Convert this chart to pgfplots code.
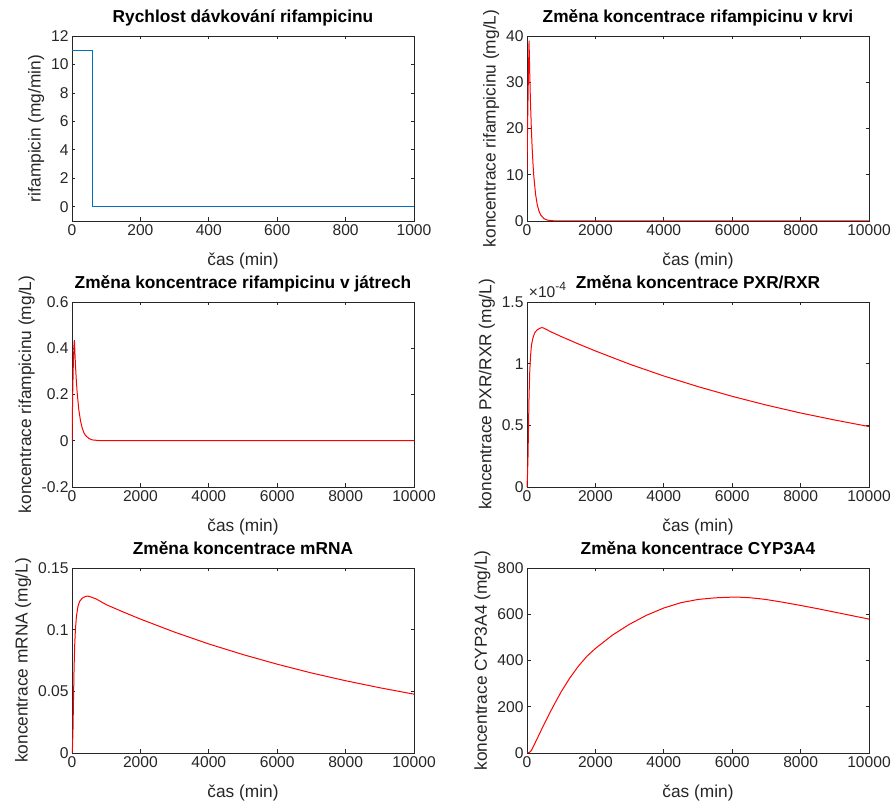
\documentclass[border=0pt]{standalone}
\usepackage{fontspec}
\setmainfont{Liberation Sans}
\usepackage{pgfplots}
\pgfplotsset{compat=1.18}
\definecolor{axgray}{rgb}{0.15,0.15,0.15}
\definecolor{mblue}{rgb}{0,0.447,0.741}
\pgfplotsset{
  mat/.style={
    scale only axis, width=342pt, height=185pt,
    axis line style={draw=axgray, line width=0.8pt},
    every tick/.style={draw=axgray, line width=0.8pt},
    major tick length=3.5pt,
    tick align=inside,
    scaled ticks=false,
    ticklabel style={font=\fontsize{15.6}{18}\selectfont, text=axgray},
    xlabel style={font=\fontsize{17.3}{20}\selectfont, text=axgray,
      at={(axis description cs:0.5,0)}, anchor=base, yshift=-45pt},
    ylabel style={font=\fontsize{17.3}{20}\selectfont, text=axgray},
    title style={font=\fontsize{17.3}{20}\selectfont\bfseries, text=black,
      at={(axis description cs:0.5,1)}, anchor=base, yshift=7.5pt},
    xlabel={čas (min)},
    every axis plot/.append style={line width=1pt},
  },
  longx/.style={
    xmin=0, xmax=10000,
    xtick={0,2000,...,10000},
    xticklabels={0,2000,4000,6000,8000,10000},
  },
}
\begin{document}
\begin{tikzpicture}
\path[use as bounding box] (0,0) rectangle (894pt,805pt);

% dosing rate
\begin{axis}[mat, at={(72pt,584pt)}, anchor=south west,
  title={Rychlost dávkování rifampicinu},
  ylabel={rifampicin (mg/min)},
  xmin=0, xmax=1000, ymin=-1, ymax=12,
  xtick={0,200,...,1000}, xticklabels={0,200,400,600,800,1000},
  ytick={0,2,...,12}, yticklabels={0,2,4,6,8,10,12}]
\addplot[mblue] coordinates {(0,11) (60,11) (60,0) (1000,0)};
\end{axis}

% blood
\begin{axis}[mat, longx, at={(527pt,584pt)}, anchor=south west,
  title={Změna koncentrace rifampicinu v krvi},
  ylabel={koncentrace rifampicinu (mg/L)},
  ymin=0, ymax=40,
  ytick={0,10,...,40}, yticklabels={0,10,20,30,40}]
\addplot[red] coordinates {
(0,11) (20,22) (40,31) (60,39) (80,31.9) (100,26.1) (125,20.4) (150,15.9)
(175,12.4) (200,9.6) (250,5.8) (300,3.5) (350,2.15) (400,1.3) (500,0.48)
(600,0.18) (800,0.02) (1000,0) (10000,0)};
\end{axis}

% liver
\begin{axis}[mat, longx, at={(72pt,318pt)}, anchor=south west,
  title={Změna koncentrace rifampicinu v játrech},
  ylabel={koncentrace rifampicinu (mg/L)},
  ymin=-0.2, ymax=0.6,
  ytick={-0.2,0,0.2,0.4,0.6}, yticklabels={-0.2,0,0.2,0.4,0.6}]
\addplot[red] coordinates {
(0,0) (20,0.2) (40,0.34) (60,0.42) (70,0.435) (100,0.331) (125,0.264)
(150,0.21) (200,0.133) (250,0.085) (300,0.054) (350,0.034) (400,0.022)
(500,0.009) (600,0.0035) (800,0.0006) (1000,0) (10000,0)};
\end{axis}

% PXR/RXR (x 1e-4)
\begin{axis}[mat, longx, at={(527pt,318pt)}, anchor=south west,
  clip=false,
  title={Změna koncentrace PXR/RXR},
  ylabel={koncentrace PXR/RXR (mg/L)},
  ymin=0, ymax=1.5,
  ytick={0,0.5,1,1.5}, yticklabels={0,0.5,1,1.5}]
\addplot[red] coordinates {
(0,0) (15,0.1) (30,0.25) (45,0.5) (60,0.74) (80,0.93) (100,1.05) (130,1.15)
(175,1.21) (225,1.25) (300,1.275) (400,1.29) (450,1.292) (500,1.287)
(700,1.258) (1000,1.22) (1500,1.16) (2000,1.103) (3000,0.996) (4000,0.9)
(5000,0.814) (6000,0.735) (7000,0.664) (8000,0.6) (9000,0.543) (10000,0.49)};
\node[anchor=base west, text=axgray, inner sep=0pt]
  at (rel axis cs:0.005,1.025)
  {\fontsize{15.6}{18}\selectfont ×10\raisebox{0.42em}{\fontsize{12}{13}\selectfont -4}};
\end{axis}

% mRNA
\begin{axis}[mat, longx, at={(72pt,52pt)}, anchor=south west,
  title={Změna koncentrace mRNA},
  ylabel={koncentrace mRNA (mg/L)},
  ymin=0, ymax=0.15,
  ytick={0,0.05,0.1,0.15}, yticklabels={0,0.05,0.1,0.15}]
\addplot[red] coordinates {
(0,0) (15,0.005) (30,0.02) (45,0.045) (60,0.068) (80,0.088) (100,0.1)
(130,0.111) (175,0.119) (225,0.123) (300,0.1255) (400,0.127) (460,0.1272)
(550,0.1265) (700,0.125) (1000,0.1203) (1500,0.1143) (2000,0.1086)
(3000,0.098) (4000,0.0884) (5000,0.0798) (6000,0.072) (7000,0.0649)
(8000,0.0586) (9000,0.0529) (10000,0.0477)};
\end{axis}

% CYP3A4
\begin{axis}[mat, longx, at={(527pt,52pt)}, anchor=south west,
  title={Změna koncentrace CYP3A4},
  ylabel={koncentrace CYP3A4 (mg/L)},
  ymin=0, ymax=800,
  ytick={0,200,...,800}, yticklabels={0,200,400,600,800}]
\addplot[red] coordinates {
(0,0) (50,1.5) (100,6) (150,17) (200,32) (300,63) (400,94) (500,124)
(600,154) (700,183) (800,211) (900,238) (1000,265) (1250,324) (1500,375)
(1750,418) (2000,452) (2500,510) (3000,557) (3500,596) (4000,627)
(4500,650) (5000,664) (5500,671) (6000,674) (6250,673.5) (6500,671.5)
(6750,668) (7000,663.5) (7500,651.5) (8000,638) (8500,624) (9000,609)
(9500,594) (10000,579)};
\end{axis}
\end{tikzpicture}
\end{document}
